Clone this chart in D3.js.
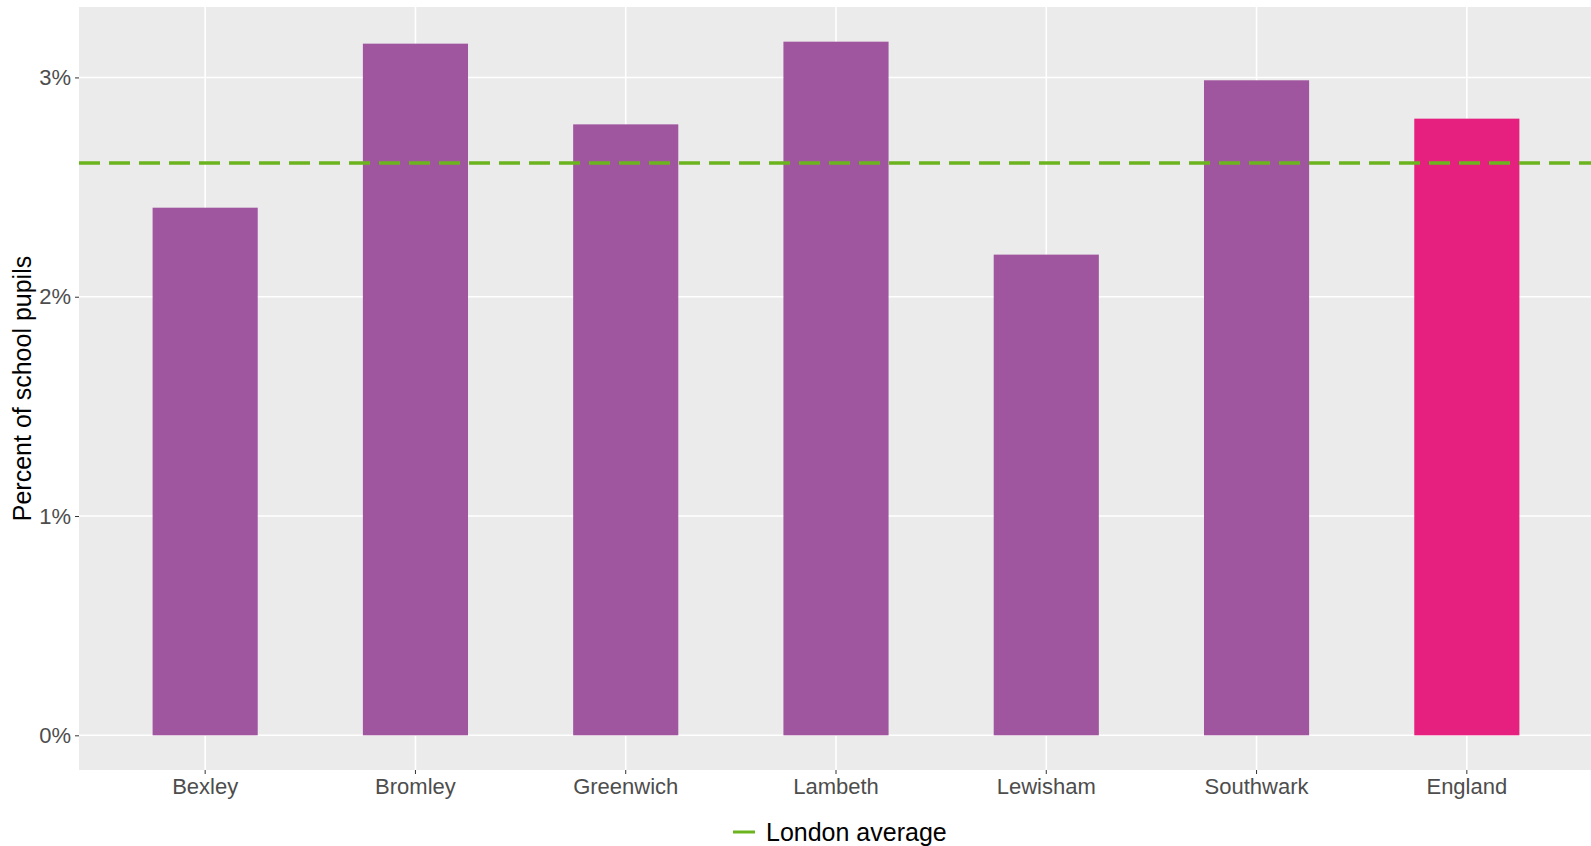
<!DOCTYPE html>
<html>
<head>
<meta charset="utf-8">
<script src="https://cdn.jsdelivr.net/npm/d3@7"></script>
<style>
  html, body { margin: 0; padding: 0; background: #ffffff; }
  svg { display: block; }
  text { font-family: "Liberation Sans", Arial, sans-serif; }
</style>
</head>
<body>
<svg id="chart" width="1591" height="846"></svg>
<script>
// ---- data ----
const categories = ["Bexley", "Bromley", "Greenwich", "Lambeth", "Lewisham", "Southwark", "England"];
const values = [2.406, 3.154, 2.786, 3.163, 2.192, 2.987, 2.812];
const barGroup = ["borough", "borough", "borough", "borough", "borough", "borough", "england"];
const londonAverage = 2.61;
const yTicks = [0, 1, 2, 3];
const yTickLabels = ["0%", "1%", "2%", "3%"];
const yTitle = "Percent of school pupils";
const legendLabel = "London average";

// ---- layout ----
const W = 1591, H = 846;
const panel = { left: 79, right: 1593, top: 7, bottom: 770 };
const colors = { borough: "#A0569F", england: "#E5207F", avg: "#6CB41E" };

const svg = d3.select("#chart");

const maxV = d3.max(values);
const y = d3.scaleLinear()
  .domain([-0.05 * maxV, maxV * 1.05])
  .range([panel.bottom, panel.top]);

const x = d3.scaleBand()
  .domain(categories)
  .range([panel.left, panel.right])
  .paddingInner(0.5)
  .paddingOuter(0.35);

// panel background
svg.append("rect")
  .attr("x", panel.left).attr("y", panel.top)
  .attr("width", panel.right - panel.left)
  .attr("height", panel.bottom - panel.top)
  .attr("fill", "#EBEBEB");

// grid lines
const grid = svg.append("g");
grid.selectAll("line.h").data(yTicks).join("line")
  .attr("x1", panel.left).attr("x2", panel.right)
  .attr("y1", d => y(d)).attr("y2", d => y(d))
  .attr("stroke", "#ffffff").attr("stroke-width", 1.6);
grid.selectAll("line.v").data(categories).join("line")
  .attr("x1", d => x(d) + x.bandwidth() / 2).attr("x2", d => x(d) + x.bandwidth() / 2)
  .attr("y1", panel.top).attr("y2", panel.bottom)
  .attr("stroke", "#ffffff").attr("stroke-width", 1.6);

// bars
svg.append("g").selectAll("rect").data(categories).join("rect")
  .attr("x", d => x(d))
  .attr("width", x.bandwidth())
  .attr("y", (d, i) => y(values[i]))
  .attr("height", (d, i) => y(0) - y(values[i]))
  .attr("fill", (d, i) => colors[barGroup[i]]);

// London average dashed line
svg.append("line")
  .attr("x1", panel.left).attr("x2", panel.right)
  .attr("y1", y(londonAverage)).attr("y2", y(londonAverage))
  .attr("stroke", colors.avg)
  .attr("stroke-width", 3.5)
  .attr("stroke-dasharray", "21 9");

// y axis
const yAxis = d3.axisLeft(y)
  .tickValues(yTicks)
  .tickFormat((d, i) => yTickLabels[i])
  .tickSize(4)
  .tickPadding(4);
const gy = svg.append("g")
  .attr("transform", `translate(${panel.left},0)`)
  .call(yAxis);
gy.select(".domain").remove();
gy.selectAll(".tick line").attr("stroke", "#333333").attr("stroke-width", 1);
gy.selectAll(".tick text")
  .attr("fill", "#4D4D4D")
  .style("font-size", "22px")
  .style("font-family", "'Liberation Sans', Arial, sans-serif");

// x axis
const xAxis = d3.axisBottom(x).tickSize(4).tickPadding(4);
const gx = svg.append("g")
  .attr("transform", `translate(0,${panel.bottom})`)
  .call(xAxis);
gx.select(".domain").remove();
gx.selectAll(".tick line").attr("stroke", "#333333").attr("stroke-width", 1);
gx.selectAll(".tick text")
  .attr("fill", "#4D4D4D")
  .style("font-size", "22px")
  .style("font-family", "'Liberation Sans', Arial, sans-serif");

// y title
svg.append("text")
  .attr("transform", `translate(31,${(panel.top + panel.bottom) / 2}) rotate(-90)`)
  .attr("text-anchor", "middle")
  .attr("fill", "#000000")
  .style("font-size", "25px")
  .text(yTitle);

// legend
const leg = svg.append("g");
leg.append("line")
  .attr("x1", 733).attr("x2", 755)
  .attr("y1", 832).attr("y2", 832)
  .attr("stroke", colors.avg).attr("stroke-width", 3);
leg.append("text")
  .attr("x", 766).attr("y", 841)
  .attr("fill", "#000000")
  .style("font-size", "25px")
  .text(legendLabel);
</script>
</body>
</html>
